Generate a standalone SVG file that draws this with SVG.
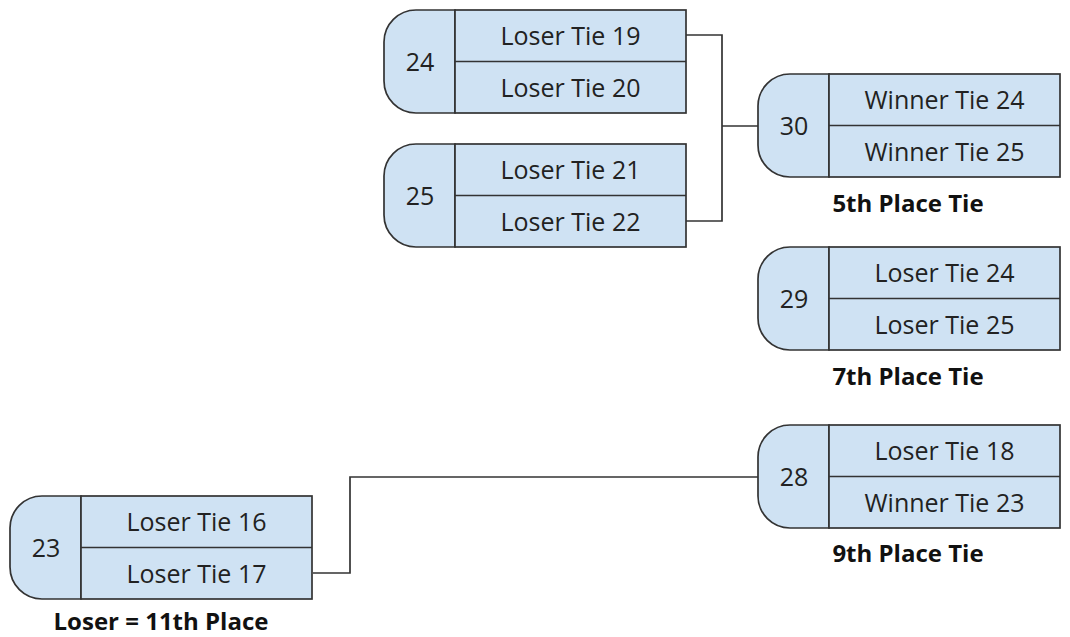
<svg xmlns="http://www.w3.org/2000/svg" width="1070" height="637" viewBox="0 0 1070 637">
<style>
.sh{fill:#cfe2f3;stroke:#333;stroke-width:1.7}
.ln{fill:none;stroke:#333;stroke-width:1.7}
.t{font-family:"Open Sans","DejaVu Sans",sans-serif;font-size:25px;fill:#222;text-anchor:middle;dominant-baseline:central}
.b{font-family:"Open Sans","DejaVu Sans",sans-serif;font-size:24px;font-weight:bold;fill:#111;text-anchor:middle;dominant-baseline:central}
</style>
<defs>
<g id="box">
<path class="sh" d="M32,0 H71 V103 H32 A32 32 0 0 1 0,71 V32 A32 32 0 0 1 32,0 Z"/>
<rect class="sh" x="71" y="0" width="231" height="103"/>
<line class="ln" x1="71" y1="51.5" x2="302" y2="51.5"/>
</g>
</defs>
<g id="connectors">
<path class="ln" d="M686,35 H722 V221 H686"/>
<path class="ln" d="M722,126 H758"/>
<path class="ln" d="M313,573 H350 V477 H758"/>
</g>
<g id="node24" transform="translate(384,10)">
<use href="#box"/>
<text class="t" x="36" y="51">24</text>
<text class="t" x="186.5" y="25">Loser Tie 19</text>
<text class="t" x="186.5" y="77">Loser Tie 20</text>
</g>
<g id="node25" transform="translate(384,144)">
<use href="#box"/>
<text class="t" x="36" y="51">25</text>
<text class="t" x="186.5" y="25">Loser Tie 21</text>
<text class="t" x="186.5" y="77">Loser Tie 22</text>
</g>
<g id="node30" transform="translate(758,74)">
<use href="#box"/>
<text class="t" x="36" y="51">30</text>
<text class="t" x="186.5" y="25">Winner Tie 24</text>
<text class="t" x="186.5" y="77">Winner Tie 25</text>
<text class="b" x="150" y="128">5th Place Tie</text>
</g>
<g id="node29" transform="translate(758,247)">
<use href="#box"/>
<text class="t" x="36" y="51">29</text>
<text class="t" x="186.5" y="25">Loser Tie 24</text>
<text class="t" x="186.5" y="77">Loser Tie 25</text>
<text class="b" x="150" y="128">7th Place Tie</text>
</g>
<g id="node28" transform="translate(758,425)">
<use href="#box"/>
<text class="t" x="36" y="51">28</text>
<text class="t" x="186.5" y="25">Loser Tie 18</text>
<text class="t" x="186.5" y="77">Winner Tie 23</text>
<text class="b" x="150" y="127">9th Place Tie</text>
</g>
<g id="node23" transform="translate(10,496)">
<use href="#box"/>
<text class="t" x="36" y="51">23</text>
<text class="t" x="186.5" y="25">Loser Tie 16</text>
<text class="t" x="186.5" y="77">Loser Tie 17</text>
<text class="b" x="151" y="124">Loser = 11th Place</text>
</g>
</svg>
